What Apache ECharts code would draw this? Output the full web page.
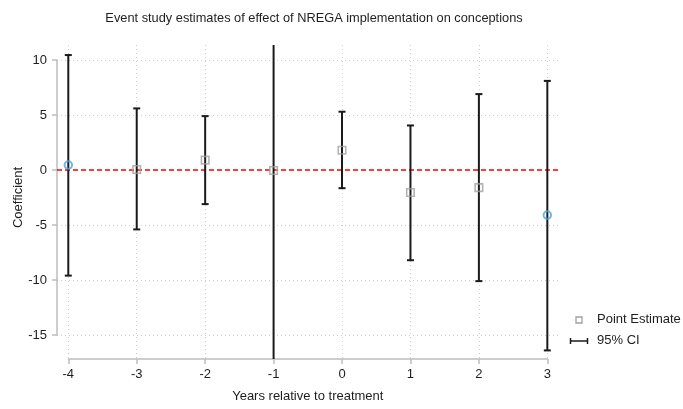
<!DOCTYPE html>
<html>
<head>
<meta charset="utf-8">
<script src="https://cdn.jsdelivr.net/npm/echarts@6/dist/echarts.min.js"></script>
<style>
  html, body { margin: 0; padding: 0; background: #fff; }
  #chart { width: 683px; height: 409px; }
</style>
</head>
<body>
<div id="chart"></div>
<script>
// Event-study coefficients by year relative to treatment
const years = [-4, -3, -2, -1, 0, 1, 2, 3];
const estimates = [0.45, 0.05, 0.9, -0.05, 1.8, -2.05, -1.6, -4.1];
const ciUpper = [10.45, 5.6, 4.9, 19.5, 5.3, 4.05, 6.9, 8.1];
const ciLower = [-9.6, -5.4, -3.1, -19.5, -1.65, -8.2, -10.1, -16.4];
// End-point (binned) years are marked with a circle instead of a square
const binnedYears = [-4, 3];
const xTicks = { min: -4, max: 3, step: 1 };
const yTicks = { min: -15, max: 10, step: 5 };

const FONT = '"Liberation Sans", Arial, sans-serif';
const TXT = '#1e1e1e';
const AXIS = '#bdbdbd';
const GRIDLINE = { color: '#cfcfcf', width: 1, type: [1, 3] };

// Plot region (pixels) and its data extent
const plot = { left: 57, top: 45, width: 501, height: 314 };
const plotX = [-4.165, 3.156];
const plotY = [-17.18, 11.364];

const ciData = years.map((x, i) => [x, ciLower[i], ciUpper[i]]);
const squarePts = [], circlePts = [];
years.forEach((x, i) => {
  (binnedYears.includes(x) ? circlePts : squarePts).push([x, estimates[i]]);
});

const chart = echarts.init(document.getElementById('chart'), null, { renderer: 'canvas' });

chart.setOption({
  animation: false,
  backgroundColor: '#fff',
  textStyle: { fontFamily: FONT },
  title: {
    text: 'Event study estimates of effect of NREGA implementation on conceptions',
    left: 309, top: 7, textAlign: 'center',
    textStyle: { fontFamily: FONT, fontSize: 12.8, fontWeight: 'normal', color: TXT }
  },
  grid: [
    // data area
    { left: plot.left, top: plot.top, width: plot.width, height: plot.height, outerBoundsMode: 'none' },
    // x axis (offset from the y axis)
    { left: 68.3, top: plot.top, width: 479, height: plot.height, outerBoundsMode: 'none' },
    // y axis
    { left: plot.left, top: 60, width: plot.width, height: 275, outerBoundsMode: 'none' }
  ],
  xAxis: [
    { gridIndex: 0, type: 'value', min: plotX[0], max: plotX[1], show: false },
    {
      gridIndex: 1, type: 'value', min: xTicks.min, max: xTicks.max, interval: xTicks.step,
      axisLine: { show: true, lineStyle: { color: AXIS, width: 1.5 } },
      axisTick: { show: true, length: 5, lineStyle: { color: AXIS, width: 1.5 } },
      axisLabel: { color: TXT, fontSize: 13, margin: 9, fontFamily: FONT },
      splitLine: { show: true, lineStyle: GRIDLINE },
      name: 'Years relative to treatment', nameLocation: 'middle', nameGap: 31,
      nameTextStyle: { color: TXT, fontSize: 13, fontFamily: FONT }
    },
    { gridIndex: 2, type: 'value', min: 0, max: 1, show: false }
  ],
  yAxis: [
    { gridIndex: 0, type: 'value', min: plotY[0], max: plotY[1], show: false },
    { gridIndex: 1, type: 'value', min: 0, max: 1, show: false },
    {
      gridIndex: 2, type: 'value', min: yTicks.min, max: yTicks.max, interval: yTicks.step,
      axisLine: { show: true, lineStyle: { color: AXIS, width: 1.5 } },
      axisTick: { show: true, length: 5, lineStyle: { color: AXIS, width: 1.5 } },
      axisLabel: { color: TXT, fontSize: 13, margin: 10, fontFamily: FONT },
      splitLine: { show: true, lineStyle: GRIDLINE },
      name: 'Coefficient', nameLocation: 'middle', nameGap: 32, nameMoveOverlap: false,
      nameTextStyle: { color: TXT, fontSize: 13, fontFamily: FONT }
    }
  ],
  series: [
    {
      // zero reference line
      type: 'line', xAxisIndex: 0, yAxisIndex: 0,
      data: [[plotX[0], 0], [plotX[1], 0]],
      symbol: 'none', silent: true, z: 1,
      lineStyle: { color: '#ff0000', width: 1.5, type: [5, 3] }
    },
    {
      name: '95% CI', type: 'custom', xAxisIndex: 0, yAxisIndex: 0, clip: true, z: 2,
      data: ciData,
      renderItem: function (params, api) {
        const x = api.value(0);
        const lo = api.coord([x, api.value(1)]);
        const hi = api.coord([x, api.value(2)]);
        const cap = 3.5;
        const style = { stroke: '#1a1a1a', lineWidth: 2 };
        return {
          type: 'group',
          children: [
            { type: 'line', shape: { x1: hi[0], y1: hi[1], x2: lo[0], y2: lo[1] }, style },
            { type: 'line', shape: { x1: hi[0] - cap, y1: hi[1], x2: hi[0] + cap, y2: hi[1] }, style },
            { type: 'line', shape: { x1: lo[0] - cap, y1: lo[1], x2: lo[0] + cap, y2: lo[1] }, style }
          ]
        };
      }
    },
    {
      name: 'Point Estimate', type: 'scatter', xAxisIndex: 0, yAxisIndex: 0, z: 3,
      data: squarePts, symbol: 'rect', symbolSize: 7.5,
      itemStyle: { color: 'rgba(0,0,0,0)', borderColor: '#a0a0a0', borderWidth: 1.6 }
    },
    {
      type: 'scatter', xAxisIndex: 0, yAxisIndex: 0, z: 3,
      data: circlePts, symbol: 'circle', symbolSize: 7.5,
      itemStyle: { color: 'rgba(0,0,0,0)', borderColor: '#4ea3d8', borderWidth: 2 }
    }
  ],
  graphic: [
    // legend
    { type: 'rect', shape: { x: 576, y: 317, width: 6, height: 6 },
      style: { fill: 'none', stroke: '#a0a0a0', lineWidth: 1.3 } },
    { type: 'text', left: 597, top: 313,
      style: { text: 'Point Estimate', fill: TXT, fontSize: 13, fontFamily: FONT } },
    { type: 'line', shape: { x1: 570, y1: 341, x2: 588, y2: 341 },
      style: { stroke: '#1a1a1a', lineWidth: 1.5 } },
    { type: 'line', shape: { x1: 570.5, y1: 338, x2: 570.5, y2: 344 },
      style: { stroke: '#1a1a1a', lineWidth: 1.5 } },
    { type: 'line', shape: { x1: 587.5, y1: 338, x2: 587.5, y2: 344 },
      style: { stroke: '#1a1a1a', lineWidth: 1.5 } },
    { type: 'text', left: 597, top: 334,
      style: { text: '95% CI', fill: TXT, fontSize: 13, fontFamily: FONT } }
  ]
});
</script>
</body>
</html>
